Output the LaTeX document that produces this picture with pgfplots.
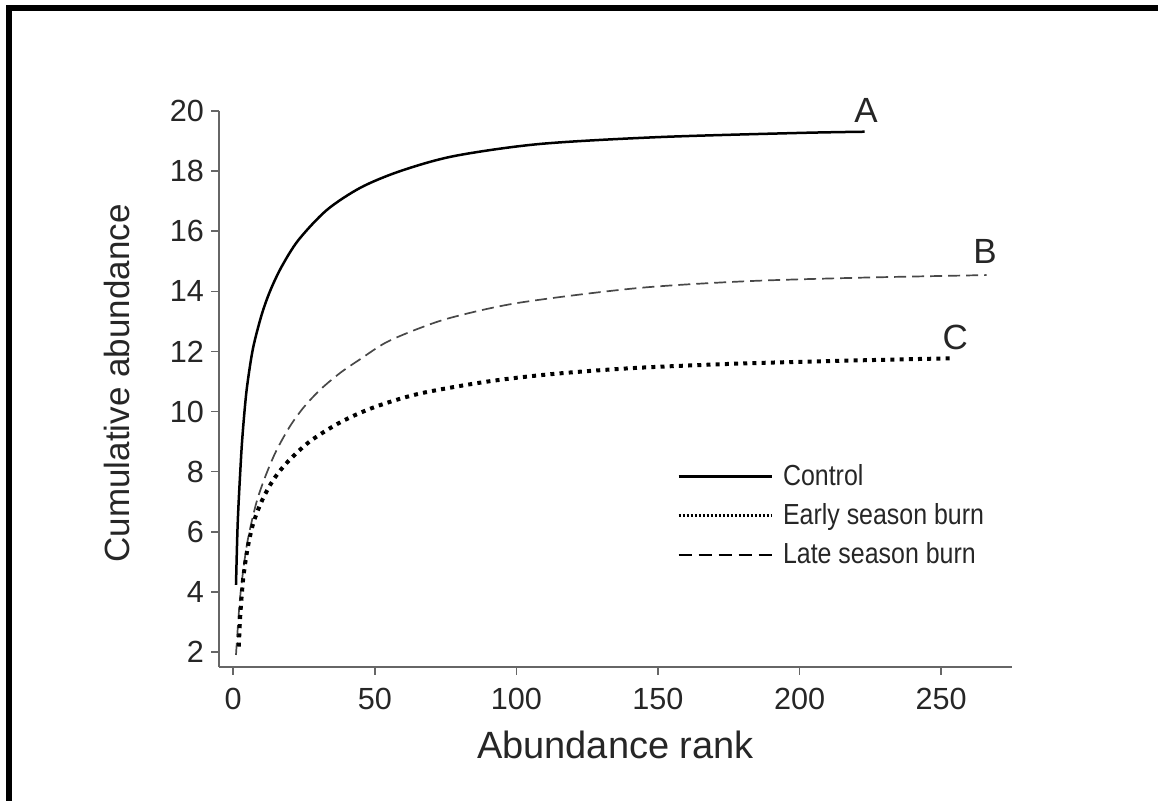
\documentclass[border=0pt]{standalone}
\usepackage{fontspec}
\setmainfont{Liberation Sans}
\newfontfamily\narrowfont[FakeStretch=0.86]{Liberation Sans}
\usepackage{pgfplots}
\pgfplotsset{compat=1.18}

\definecolor{axisgray}{HTML}{666666}
\definecolor{dashgray}{HTML}{484848}

\begin{document}
\begin{tikzpicture}
\useasboundingbox (0,0) rectangle (579pt,400.5pt);
% outer frame (top and left only)
\draw[line width=3pt, line join=miter] (4.5pt,0) -- (4.5pt,396.5pt) -- (579pt,396.5pt);

\begin{axis}[
  at={(109.5pt,67pt)}, anchor=south west,
  scale only axis, width=396.5pt, height=278pt,
  xmin=-5, xmax=275, ymin=1.5, ymax=20,
  xtick={0,50,...,250}, ytick={2,4,...,20},
  axis x line*=bottom, axis y line*=left,
  axis line style={axisgray, line width=0.9pt},
  tick style={axisgray, line width=0.8pt},
  tick align=outside, major tick length=4pt,
  /pgf/number format/assume math mode=true,
  tick label style={font=\fontsize{15.3}{17}\selectfont, color=black!85},
  xticklabel style={yshift=-3pt},
  xlabel={Abundance rank}, ylabel={Cumulative abundance},
  every axis x label/.style={at={(axis description cs:0.5,-0.14)}, anchor=center,
    font=\fontsize{19}{22}\selectfont, color=black!85},
  every axis y label/.style={at={(axis description cs:-0.1286,0.51)}, rotate=90, anchor=center,
    font=\fontsize{17.5}{20}\selectfont, color=black!85},
  legend style={at={(axis description cs:0.5776,0.372)}, anchor=north west,
    draw=none, fill=none, font=\narrowfont\fontsize{14.5}{16}\selectfont,
    row sep=3.5pt, column sep=3pt, inner sep=0pt, nodes={inner sep=2pt, text=black!85}},
  legend cell align=left,
  legend image code/.code={\draw[#1] (0pt,0pt) -- (46.5pt,0pt);},
  clip=false,
]
% A: control
\addplot[black, line width=1.25pt, smooth, tension=0.5, forget plot] coordinates {
  (1,4.23) (1.5,6.0) (2,7.1) (3,8.8) (4,10.0) (5,10.9) (7,12.1) (10,13.2)
  (13,14.0) (17,14.8) (23,15.7) (33,16.7) (45,17.45) (59,18.0) (78,18.5)
  (108,18.9) (150,19.13) (200,19.27) (223,19.31)
};
% B: late season burn
\addplot[dashgray, line width=0.85pt, dash pattern=on 6pt off 3pt, smooth, tension=0.5, forget plot] coordinates {
  (1,1.9) (2,3.3) (3,4.3) (5,5.65) (8,6.9) (11,7.75) (15,8.65) (20,9.5) (25,10.15)
  (31,10.75) (38,11.3) (45,11.75) (54,12.3) (66,12.78) (78,13.15) (101,13.62)
  (142,14.1) (180,14.33) (220,14.45) (266,14.54)
};
% C: early season burn
\addplot[black, line width=2pt, dash pattern=on 2pt off 2.6pt, smooth, tension=0.5, forget plot] coordinates {
  (2,2.18) (2.5,3.2) (3.5,4.4) (5,5.4) (7,6.25) (10,7.0) (14,7.7) (19,8.3) (27,9.0)
  (38,9.65) (50,10.15) (66,10.6) (90,11.0) (113,11.25) (142,11.45)
  (180,11.6) (220,11.7) (253,11.77)
};

\addlegendimage{black, line width=1.2pt}
\addlegendentry{Control}
\addlegendimage{black, line width=1.3pt, dash pattern=on 0.9pt off 1.1pt}
\addlegendentry{Early season burn}
\addlegendimage{black, line width=1pt, dash pattern=on 6.5pt off 3.5pt}
\addlegendentry{Late season burn}

\node[font=\fontsize{17.5}{20}\selectfont, color=black!85] at (axis cs:223.5,20.03) {A};
\node[font=\fontsize{17.5}{20}\selectfont, color=black!85] at (axis cs:265.5,15.31) {B};
\node[font=\fontsize{17.5}{20}\selectfont, color=black!85] at (axis cs:255,12.48) {C};
\end{axis}
\end{tikzpicture}
\end{document}
